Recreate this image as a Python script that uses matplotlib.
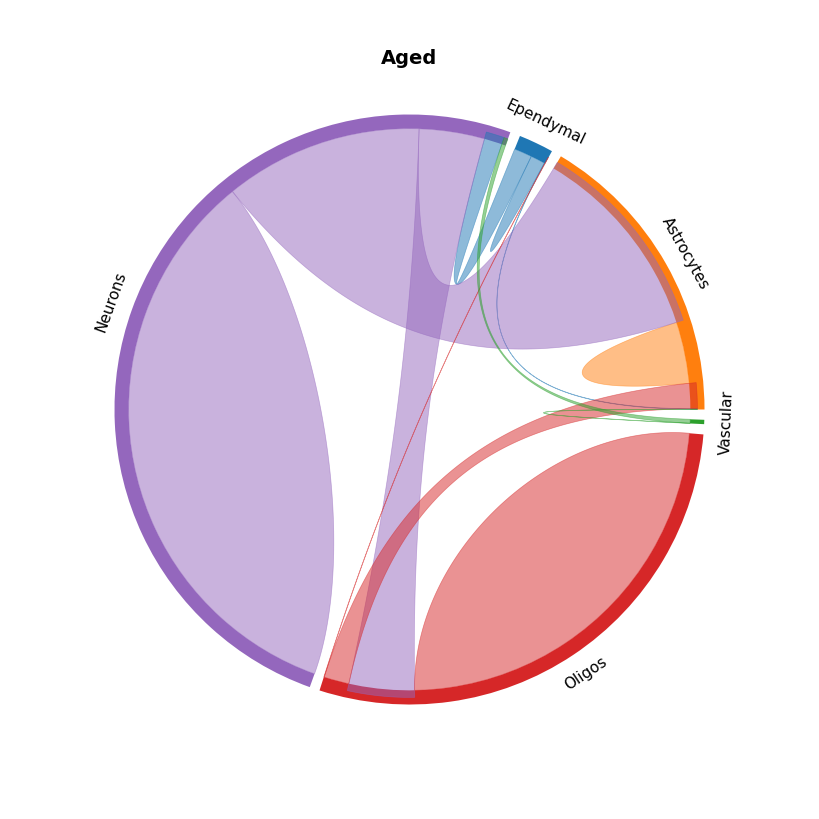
import numpy as np
import matplotlib
matplotlib.use("Agg")
import matplotlib.pyplot as plt
from matplotlib.patches import Wedge, Polygon

names = ["Astrocytes", "Ependymal", "Neurons", "Oligos", "Vascular"]
colors = ["#ff7f0e", "#1f77b4", "#9467bd", "#d62728", "#2ca02c"]

astro_out = [12.7, 0.0, 0.0, 0.0, 0.0]
epend_out = [0.1, 3.0, 3.7, 0.0, 0.0]
neuron_out = [41.0, 0.0, 121.0, 13.5, 0.0]
oligo_out = [5.2, 0.08, 0.0, 84.0, 0.0]
vasc_out = [0.05, 0.0, 0.8, 0.0, 0.0]
flows = np.array([astro_out, epend_out, neuron_out, oligo_out, vasc_out])

pad = 2.0
width = 0.048
r_out = 1 - width          # where outgoing chords start
r_in = 1 - width / 2       # incoming chords reach into the ring
r_ctrl = r_out * (1 - 0.7)
r_self = r_out * (1 - 0.49)

n = len(names)
totals = flows.sum(axis=1) + flows.sum(axis=0) - np.diag(flows)
sizes = totals / totals.sum() * (360 - pad * n)

arcs = []
pos = {}
start = 0.0
for i in range(n):
    segs = []
    for j in range(n):
        if j == i:
            if flows[i, i] > 0:
                segs.append((flows[i, i], ("self", i, i)))
            continue
        if flows[i, j] > 0:
            segs.append((flows[i, j], ("s", i, j)))
        if flows[j, i] > 0:
            segs.append((flows[j, i], ("t", j, i)))
    segs.sort(key=lambda s: s[0])
    scale = sizes[i] / totals[i]
    a = start
    for val, key in segs:
        pos[key] = (a, a + val * scale)
        a += val * scale
    arcs.append((start, start + sizes[i]))
    start += sizes[i] + pad


def pol(r, a):
    t = np.deg2rad(a)
    return np.array([r * np.cos(t), r * np.sin(t)])


def arc(r, a0, a1, k=80):
    t = np.deg2rad(np.linspace(a0, a1, k))
    return np.column_stack([r * np.cos(t), r * np.sin(t)])


def bez(p0, p1, p2, p3, k=120):
    t = np.linspace(0, 1, k)[:, None]
    return (1 - t) ** 3 * p0 + 3 * (1 - t) ** 2 * t * p1 + 3 * (1 - t) * t ** 2 * p2 + t ** 3 * p3


fig = plt.figure(figsize=(8.19, 8.19), dpi=100)
ax = fig.add_axes([0, 0, 1, 1])
L = 409.5 / 295
ax.set_xlim(-L, L)
ax.set_ylim(-L, L)
ax.set_aspect("equal")
ax.axis("off")

for i, (a0, a1) in enumerate(arcs):
    ax.add_patch(Wedge((0, 0), 1.0, a0, a1, width=width, color=colors[i], lw=0))

for i in range(n):
    for j in range(n):
        if flows[i, j] <= 0:
            continue
        if i == j:
            s, e = pos[("self", i, i)]
            pts = np.vstack([
                arc(r_out, s, e),
                bez(pol(r_out, e), pol(r_self, e), pol(r_self, s), pol(r_out, s)),
            ])
        else:
            s1, e1 = pos[("s", i, j)]
            s2, e2 = pos[("t", i, j)]
            pts = np.vstack([
                arc(r_out, s1, e1),
                bez(pol(r_out, e1), pol(r_ctrl, e1), pol(r_ctrl, s2), pol(r_in, s2)),
                arc(r_in, s2, e2),
                bez(pol(r_in, e2), pol(r_ctrl, e2), pol(r_ctrl, s1), pol(r_out, s1)),
            ])
        ax.add_patch(Polygon(pts, closed=True, facecolor=colors[i], edgecolor=colors[i],
                             alpha=0.5, lw=0.5))

for i, (a0, a1) in enumerate(arcs):
    mid = 0.5 * (a0 + a1)
    x, y = pol(1.075, mid)
    rot = mid - 90 if mid < 180 else mid - 270
    ax.text(x, y, names[i], rotation=rot, ha="center", va="center",
            fontsize=11, rotation_mode="anchor")

fig.text(0.5, 1 - 59 / 819, "Aged", ha="center", va="center", fontsize=14, fontweight="bold")

fig.savefig("out.png", dpi=100)
